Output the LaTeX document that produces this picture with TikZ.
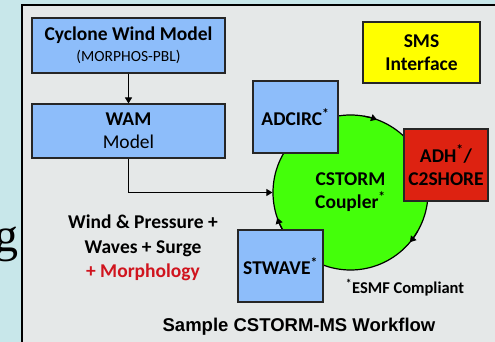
\documentclass[tikz,border=0pt]{standalone}
\usepackage{fontspec}
\setmainfont{Carlito}
\newfontfamily\arialfont{Liberation Sans}
\newfontfamily\slidefont{Liberation Serif}
\usetikzlibrary{arrows.meta,calc}
\definecolor{slide}{HTML}{C8E7EA}
\definecolor{panel}{HTML}{E5E8E8}
\definecolor{modelblue}{HTML}{8DBDFA}
\definecolor{smsyellow}{HTML}{FFFF00}
\definecolor{adhred}{HTML}{DD2211}
\definecolor{coupler}{HTML}{44FF0A}
\definecolor{morph}{HTML}{D0141E}

\begin{document}
\begin{tikzpicture}[x=1pt,y=1pt,>={Triangle[length=6pt,width=7pt]},
  font=\fontsize{19.5}{23}\selectfont\bfseries,
  modelbox/.style={draw=black!85,line width=1.1pt,fill=modelblue,
    align=center,inner sep=0pt}]
  \useasboundingbox (0,0) rectangle (495,342);
  \fill[slide] (0,0) rectangle (495,342);
  \node[font=\slidefont\fontsize{48}{48}\selectfont,anchor=base east,
        inner sep=0pt] (glyph) at (19,90) {g};
  \begin{scope}
    \clip (0,0) rectangle (495,342);
    \draw[fill=panel,line width=1.6pt] (22,337) rectangle (505,-10);
  \end{scope}

  % coupler ring
  \node[circle,draw,line width=1.2pt,fill=coupler,minimum size=155pt,
        inner sep=0pt,align=center] (cpl) at (350.5,149.5)
    {CSTORM\\Coupler\textsuperscript{*}};
  \foreach \ang in {70,-40,199}
    \draw[->,line width=1.2pt] ($(cpl.center)+(\ang+10:77.5)$)
      arc[start angle=\ang+10,end angle=\ang,radius=77.5];

  % model boxes
  \node[modelbox,minimum width=193pt,minimum height=55pt] (cyc)
    at (128.5,296.5)
    {Cyclone Wind Model\\[-2pt]
     {\fontsize{15.5}{16}\selectfont\mdseries (MORPHOS-PBL)}};
  \node[modelbox,minimum width=193pt,minimum height=54pt] (wam)
    at (128.5,211) {WAM\\{\mdseries Model}};
  \node[modelbox,fill=smsyellow,minimum width=117pt,minimum height=61pt]
    (sms) at (421.5,289.5) {SMS\\Interface};
  \node[modelbox,minimum width=85pt,minimum height=72pt] (adc)
    at (295.5,225) {ADCIRC\textsuperscript{*}};
  \node[modelbox,fill=adhred,minimum width=84pt,minimum height=72pt] (adh)
    at (446,177) {ADH\textsuperscript{*}/\\C2SHORE};
  \node[modelbox,minimum width=85pt,minimum height=72pt] (stw)
    at (280.5,76) {STWAVE\textsuperscript{*}};

  \draw[->,line width=1.1pt] (cyc) -- (wam);
  \draw[->,line width=1.1pt] (wam.south) |- (cpl.west);

  \node[align=center,font=\fontsize{19.5}{24.5}\selectfont\bfseries]
    (forcing) at (143,94)
    {Wind \& Pressure +\\Waves + Surge\\\textcolor{morph}{+ Morphology}};
  \node[font=\fontsize{16.5}{18}\selectfont\bfseries] (esmf) at (405,54)
    {\textsuperscript{*}ESMF Compliant};
  \node[font=\arialfont\bfseries\fontsize{18.5}{20}\selectfont] (title)
    at (299,15) {Sample CSTORM-MS Workflow};
\end{tikzpicture}
\end{document}
